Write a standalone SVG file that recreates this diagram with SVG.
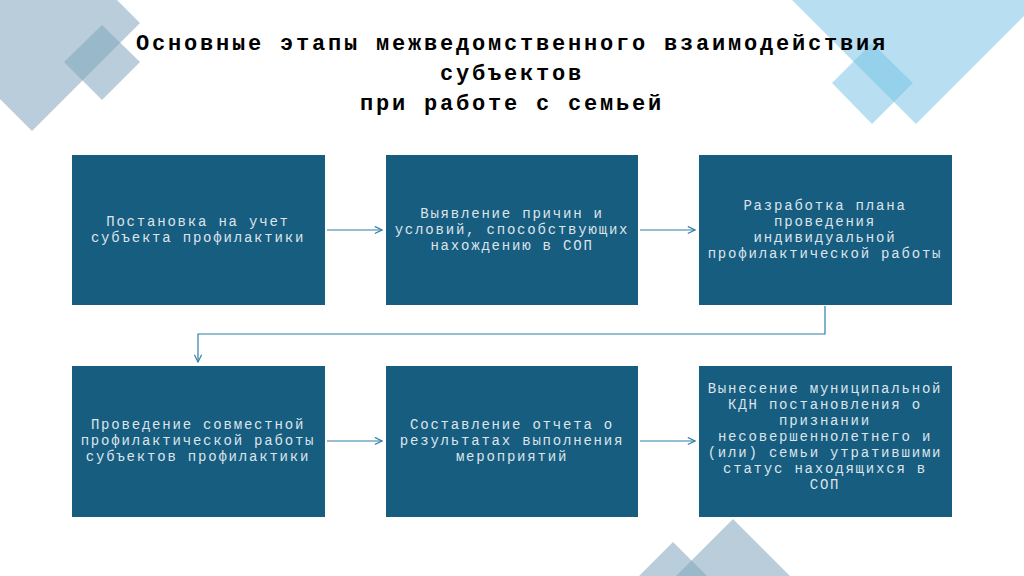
<svg xmlns="http://www.w3.org/2000/svg" width="1024" height="576" viewBox="0 0 1024 576">
<defs>
<style>
.box{fill:#175d80}
.t{font-family:"Liberation Mono",monospace;font-size:14px;letter-spacing:1.8px;fill:#dde4ea;text-anchor:middle}
.h{font-family:"Liberation Mono",monospace;font-size:22px;font-weight:bold;letter-spacing:2.8px;fill:#000;text-anchor:middle}
.c{fill:none;stroke:#2f7fa6;stroke-width:1.2}
.g{fill:#7fa5bb;opacity:0.55}
.b{fill:#7cc5e6;opacity:0.55}
</style>
<marker id="a" viewBox="0 0 10 10" refX="9" refY="5" markerWidth="9" markerHeight="9" markerUnits="userSpaceOnUse" orient="auto">
<path d="M1,1 L9,5 L1,9" fill="none" stroke="#2f7fa6" stroke-width="1.3"/>
</marker>
</defs>
<rect width="1024" height="576" fill="#fff"/>
<g id="decor">
<polygon class="g" points="32,-85 140,23 32,131 -76,23"/>
<polygon class="g" points="102,25 140,62 102,100 64,62"/>
<polygon class="b" points="792,0 1024,0 1024,16 916,124"/>
<polygon class="b" points="872,43 913,83 872,124 832,83"/>
<polygon class="g" points="733,519 790,576 676,576"/>
<polygon class="g" points="673,542 707,576 639,576"/>
</g>
<g id="title">
<text class="h" x="512" y="50">Основные этапы межведомственного взаимодействия</text>
<text class="h" x="512" y="80">субъектов</text>
<text class="h" x="512" y="110">при работе с семьей</text>
</g>
<g id="n1"><rect class="box" x="72" y="155" width="253" height="150"/>
<text class="t" x="198" y="226">Постановка на учет</text><text class="t" x="198" y="242">субъекта профилактики</text></g>
<g id="n2"><rect class="box" x="386" y="155" width="252" height="150"/>
<text class="t" x="512" y="218">Выявление причин и</text><text class="t" x="512" y="234">условий, способствующих</text><text class="t" x="512" y="250">нахождению в СОП</text></g>
<g id="n3"><rect class="box" x="699" y="155" width="253" height="150"/>
<text class="t" x="825" y="210">Разработка плана</text><text class="t" x="825" y="226">проведения</text><text class="t" x="825" y="242">индивидуальной</text><text class="t" x="825" y="258">профилактической работы</text></g>
<g id="n4"><rect class="box" x="72" y="366" width="253" height="151"/>
<text class="t" x="198" y="429">Проведение совместной</text><text class="t" x="198" y="445">профилактической работы</text><text class="t" x="198" y="461">субъектов профилактики</text></g>
<g id="n5"><rect class="box" x="386" y="366" width="252" height="151"/>
<text class="t" x="512" y="429">Составление отчета о</text><text class="t" x="512" y="445">результатах выполнения</text><text class="t" x="512" y="461">мероприятий</text></g>
<g id="n6"><rect class="box" x="699" y="366" width="253" height="151"/>
<text class="t" x="825" y="393">Вынесение муниципальной</text><text class="t" x="825" y="409">КДН постановления о</text><text class="t" x="825" y="425">признании</text><text class="t" x="825" y="441">несовершеннолетнего и</text><text class="t" x="825" y="457">(или) семьи утратившими</text><text class="t" x="825" y="473">статус находящихся в</text><text class="t" x="825" y="489">СОП</text></g>
<g id="connectors">
<path class="c" marker-end="url(#a)" d="M327,230 H382"/>
<path class="c" marker-end="url(#a)" d="M640,230 H695"/>
<path class="c" marker-end="url(#a)" d="M825,306 V334 H198 V362"/>
<path class="c" marker-end="url(#a)" d="M327,441 H382"/>
<path class="c" marker-end="url(#a)" d="M640,441 H695"/>
</g>
</svg>
